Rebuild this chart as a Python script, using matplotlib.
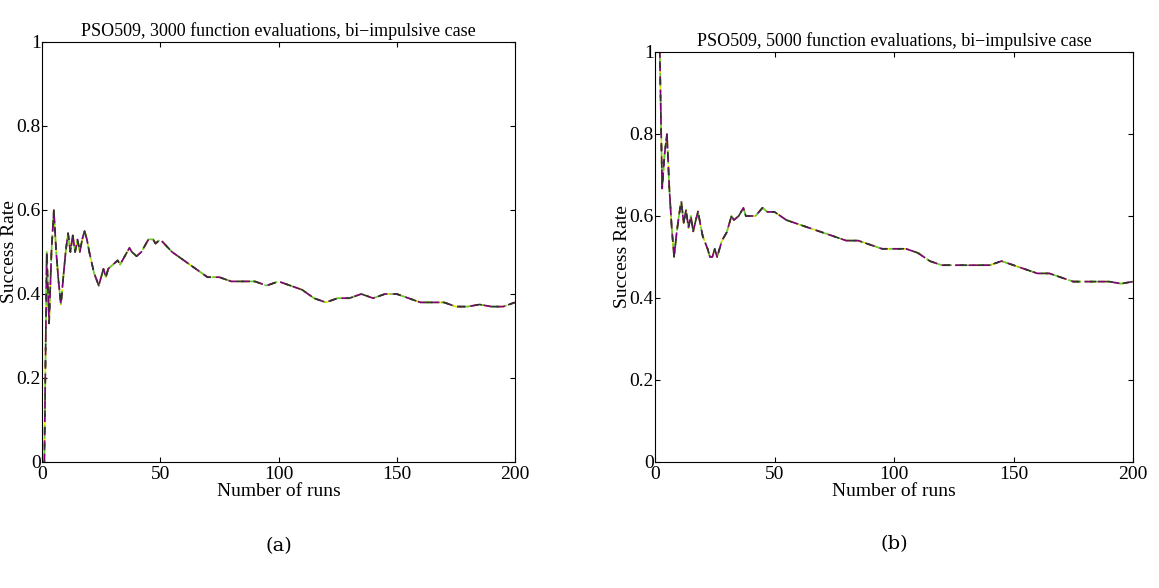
import matplotlib
matplotlib.use("Agg")
import matplotlib.pyplot as plt

runs_a = [1,2,3,4,5,6,7,8,9,10,11,12,13,14,15,16,17,18,19,20,22,24,25,26,27,28,30,32,33,35,37,38,40,42,45,47,48,50,55,60,65,70,75,80,85,90,95,100,105,110,115,120,125,130,135,140,145,150,155,160,165,170,175,180,185,190,195,200]
rate_a = [0,0.5,0.33,0.5,0.6,0.5,0.43,0.375,0.44,0.5,0.545,0.5,0.54,0.5,0.53,0.5,0.53,0.55,0.53,0.5,0.45,0.42,0.44,0.46,0.44,0.46,0.47,0.48,0.47,0.49,0.51,0.5,0.49,0.5,0.53,0.53,0.52,0.53,0.5,0.48,0.46,0.44,0.44,0.43,0.43,0.43,0.42,0.43,0.42,0.41,0.39,0.38,0.39,0.39,0.40,0.39,0.40,0.40,0.39,0.38,0.38,0.38,0.37,0.37,0.375,0.37,0.37,0.38]
runs_b = [1,2,3,4,5,6,7,8,9,10,11,12,13,14,15,16,17,18,19,20,22,23,24,25,26,27,28,30,32,33,35,37,38,40,42,45,47,50,55,60,65,70,75,80,85,90,95,100,105,110,115,120,125,130,135,140,145,150,155,160,165,170,175,180,185,190,195,200]
rate_b = [1.0,1.0,0.667,0.75,0.8,0.667,0.571,0.5,0.556,0.6,0.636,0.583,0.615,0.571,0.6,0.5625,0.588,0.611,0.579,0.55,0.52,0.5,0.5,0.52,0.5,0.52,0.54,0.56,0.6,0.59,0.6,0.62,0.6,0.6,0.6,0.62,0.61,0.61,0.59,0.58,0.57,0.56,0.55,0.54,0.54,0.53,0.52,0.52,0.52,0.51,0.49,0.48,0.48,0.48,0.48,0.48,0.49,0.48,0.47,0.46,0.46,0.45,0.44,0.44,0.44,0.44,0.435,0.44]
titles = ["PSO509, 3000 function evaluations, bi\u2212impulsive case",
          "PSO509, 5000 function evaluations, bi\u2212impulsive case"]
captions = ["(a)", "(b)"]

plt.rcParams['font.family'] = ['Liberation Serif', 'DejaVu Serif']
fig = plt.figure(figsize=(11.59, 5.88), dpi=100)
rects = [[42/1159, 1-462/588, 473/1159, 420/588], [655/1159, 1-462/588, 478/1159, 410/588]]
styles = [("#e6e600", (0, (6, 3))), ("#66cc33", (0, (8, 2, 2, 2))), ("#800080", (0, (5, 3))), ("#333333", (3, (4, 6)))]
for i, (xs, ys) in enumerate([(runs_a, rate_a), (runs_b, rate_b)]):
    ax = fig.add_axes(rects[i])
    for c, ls in styles:
        ax.plot(xs, ys, color=c, linestyle=ls, lw=1.2)
    ax.set_xlim(0, 200); ax.set_ylim(0, 1)
    ax.set_xticks([0, 50, 100, 150, 200]); ax.set_yticks([0, 0.2, 0.4, 0.6, 0.8, 1])
    ax.set_yticklabels(["0", "0.2", "0.4", "0.6", "0.8", "1"])
    ax.tick_params(direction='in', labelsize=14, top=True, right=True)
    ax.tick_params(axis='y', pad=1)
    ax.tick_params(axis='x', pad=3)
    ax.set_title(titles[i], fontsize=13, pad=4)
    ax.set_xlabel("Number of runs", fontsize=14, labelpad=0)
    ax.set_ylabel("Success Rate", fontsize=14)
    ax.yaxis.set_label_coords(-24/rects[i][2]/1159, 0.5)
    ax.text(0.5, -0.2, captions[i], transform=ax.transAxes, ha='center', va='center',
            fontsize=14, family='DejaVu Serif')
fig.savefig("out.png", dpi=100)
